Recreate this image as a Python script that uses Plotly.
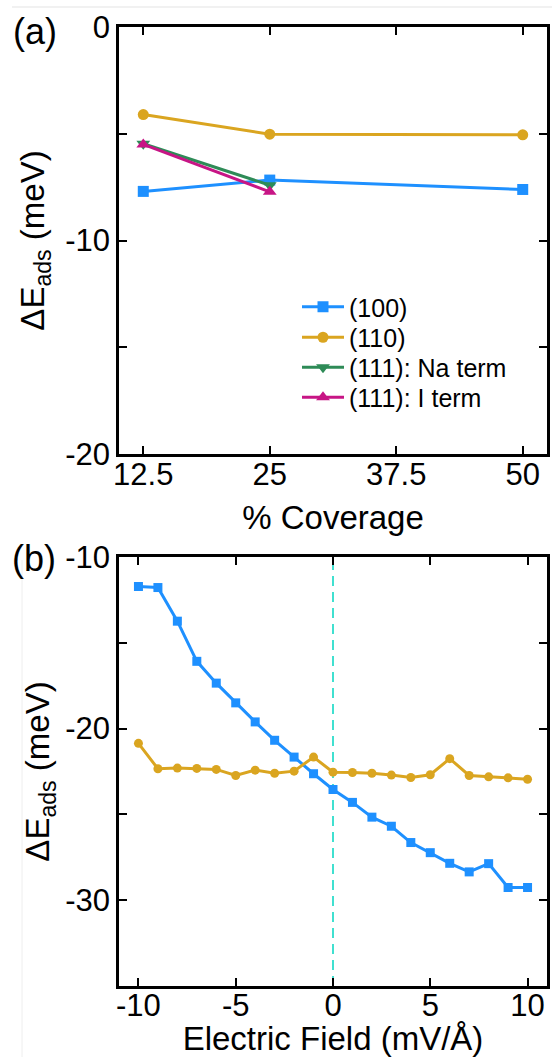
import plotly.graph_objects as go

# ---------------- data ----------------
# panel (a): adsorption energy vs coverage
coverage = [12.5, 25, 50]
e_100 = [-7.70, -7.17, -7.61]
e_110 = [-4.10, -5.02, -5.05]
coverage_111 = [12.5, 25]
e_111_na = [-5.47, -7.41]
e_111_i = [-5.50, -7.72]

# panel (b): adsorption energy vs electric field
field = [-10, -9, -8, -7, -6, -5, -4, -3, -2, -1, 0, 1, 2, 3, 4, 5, 6, 7, 8, 9, 10]
b_100 = [-11.72, -11.78, -13.74, -16.08, -17.35, -18.50, -19.61, -20.68, -21.66, -22.63,
         -23.55, -24.30, -25.16, -25.69, -26.64, -27.23, -27.85, -28.35, -27.87, -29.26, -29.26]
b_110 = [-20.86, -22.34, -22.30, -22.32, -22.38, -22.73, -22.42, -22.60, -22.48, -21.66,
         -22.54, -22.56, -22.60, -22.71, -22.85, -22.69, -21.75, -22.73, -22.81, -22.87, -22.95]

xticks_a = [12.5, 25, 37.5, 50]
xticktext_a = ["12.5", "25", "37.5", "50"]
yticks_a = [0, -5, -10, -15, -20]
yticktext_a = ["0", "", "-10", "", "-20"]
xticks_b = [-10, -5, 0, 5, 10]
xticktext_b = ["-10", "-5", "0", "5", "10"]
yticks_b = [-10, -15, -20, -25, -30]
yticktext_b = ["-10", "", "-20", "", "-30"]
zero_field = 0

BLUE = "#1E90FF"
GOLD = "#DAA520"
GREEN = "#2E8B57"
MAGENTA = "#C71585"
CYAN = "#40E0D0"
FONT = "Liberation Sans, Arial, Helvetica, sans-serif"

W, H = 552, 1057

fig = go.Figure()

# panel (a)
fig.add_trace(go.Scatter(x=coverage, y=e_100, mode="lines+markers", name="(100)",
                         line=dict(color=BLUE, width=3),
                         marker=dict(symbol="square", size=11, color=BLUE),
                         xaxis="x", yaxis="y", legend="legend"))
fig.add_trace(go.Scatter(x=coverage, y=e_110, mode="lines+markers", name="(110)",
                         line=dict(color=GOLD, width=3),
                         marker=dict(symbol="circle", size=11, color=GOLD),
                         xaxis="x", yaxis="y", legend="legend2"))
fig.add_trace(go.Scatter(x=coverage_111, y=e_111_na, mode="lines+markers", name="(111): Na term",
                         line=dict(color=GREEN, width=3),
                         marker=dict(symbol="triangle-down", size=12, color=GREEN),
                         xaxis="x", yaxis="y", legend="legend3"))
fig.add_trace(go.Scatter(x=coverage_111, y=e_111_i, mode="lines+markers", name="(111): I term",
                         line=dict(color=MAGENTA, width=3),
                         marker=dict(symbol="triangle-up", size=12, color=MAGENTA),
                         xaxis="x", yaxis="y", legend="legend4"))

# panel (b)
fig.add_trace(go.Scatter(x=field, y=b_100, mode="lines+markers", showlegend=False,
                         line=dict(color=BLUE, width=3),
                         marker=dict(symbol="square", size=9, color=BLUE),
                         xaxis="x2", yaxis="y2"))
fig.add_trace(go.Scatter(x=field, y=b_110, mode="lines+markers", showlegend=False,
                         line=dict(color=GOLD, width=3),
                         marker=dict(symbol="circle", size=9, color=GOLD),
                         xaxis="x2", yaxis="y2"))

fig.add_shape(type="line", xref="x2", yref="y2 domain", x0=zero_field, x1=zero_field, y0=0, y1=1,
              opacity=1, line=dict(color=CYAN, width=2, dash="10px,6px"), layer="below")


def px_x(p):
    return p / W


def px_y(p):
    return 1 - p / H


axis_common = dict(showline=True, linecolor="black", linewidth=2.5, mirror="ticks",
                   ticks="inside", ticklen=8, tickwidth=2, tickcolor="black",
                   showgrid=False, zeroline=False, automargin=False,
                   tickfont=dict(family=FONT, size=31, color="black"),
                   title_font=dict(family=FONT, size=33, color="black"))

xdom = [px_x(119), px_x(547)]


def legend_at(row_y):
    return dict(x=px_x(297), y=px_y(row_y), xanchor="left", yanchor="middle",
                bgcolor="rgba(0,0,0,0)", borderwidth=0, itemwidth=42,
                font=dict(family=FONT, size=25, color="black"))


fig.update_layout(
    width=W, height=H,
    margin=dict(l=0, r=0, t=0, b=0),
    paper_bgcolor="white", plot_bgcolor="white",
    font=dict(family=FONT, color="black"),
    xaxis=dict(domain=xdom, anchor="y", range=[10.1, 52.4],
               tickmode="array", tickvals=xticks_a, ticktext=xticktext_a,
               ticklabelstandoff=-9,
               title=dict(text="% Coverage", standoff=15), **axis_common),
    yaxis=dict(domain=[px_y(454), px_y(27)], anchor="x", range=[-20, 0],
               tickmode="array", tickvals=yticks_a, ticktext=yticktext_a,
               title=dict(text="ΔE<sub>ads</sub> (meV)", standoff=11), **axis_common),
    xaxis2=dict(domain=xdom, anchor="y2", range=[-11, 11],
                tickmode="array", tickvals=xticks_b, ticktext=xticktext_b,
                ticklabelstandoff=-10,
                title=dict(text="Electric Field (mV/Å)", standoff=15), **axis_common),
    yaxis2=dict(domain=[px_y(986), px_y(557)], anchor="x2", range=[-35, -10],
                tickmode="array", tickvals=yticks_b, ticktext=yticktext_b,
                title=dict(text="ΔE<sub>ads</sub> (meV)", standoff=6), **axis_common),
    legend=legend_at(307),
    legend2=legend_at(337.5),
    legend3=legend_at(367.5),
    legend4=legend_at(397.5),
    showlegend=True,
)

# panel labels
fig.add_annotation(text="(a)", x=px_x(35), y=px_y(31), xref="paper", yref="paper",
                   xanchor="center", yanchor="middle",
                   showarrow=False, font=dict(family=FONT, size=36, color="black"))
fig.add_annotation(text="(b)", x=px_x(34), y=px_y(558), xref="paper", yref="paper",
                   xanchor="center", yanchor="middle",
                   showarrow=False, font=dict(family=FONT, size=36, color="black"))

# faint frame lines from the original page
fig.add_shape(type="line", xref="paper", yref="paper", x0=px_x(12), x1=1, y0=px_y(7), y1=px_y(7),
              line=dict(color="#e3e3e3", width=1))
fig.add_shape(type="line", xref="paper", yref="paper", x0=px_x(22), x1=px_x(22), y0=px_y(560), y1=0,
              line=dict(color="#eeeeee", width=1))

fig.write_html("out.html")
